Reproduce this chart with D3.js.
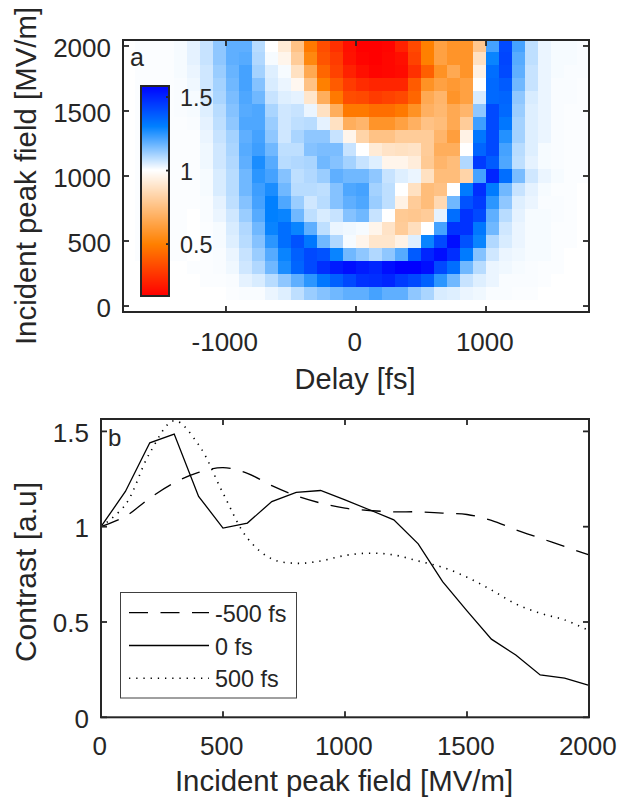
<!DOCTYPE html>
<html><head><meta charset="utf-8">
<script src="https://cdn.jsdelivr.net/npm/d3@7"></script>
<style>html,body{margin:0;padding:0;background:#fff}svg{display:block}text{font-family:"Liberation Sans",Arial,sans-serif;fill:#262626}</style>
</head><body><svg id="c" width="619" height="800"></svg>
<script>
// Heatmap: rows from 2000 MV/m down to 0, columns from -1800 fs in 100 fs steps
const fieldValues = [2000,1900,1800,1700,1600,1500,1400,1300,1200,1100,1000,900,800,700,600,500,400,300,200,100,0];
const delayStarts = [-1800,-1700,-1600,-1500,-1400,-1300,-1200,-1100,-1000,-900,-800,-700,-600,-500,-400,-300,-200,-100,0,100,200,300,400,500,600,700,800,900,1000,1100,1200,1300,1400,1500,1600,1700];
const heat = [
[1,1.01,1.01,1.01,1.015,1.035,1.07,1.134,1.19,1.19,1.087,1,.92,.76,.48,.36,.28,.19,.15,.15,.16,.24,.35,.5,.63,.58,.58,.78,1.22,1.42,1.22,1.08,1.028,1.015,1.015,1.012],
[1,1.01,1.01,1.01,1.015,1.035,1.07,1.134,1.19,1.2,1.095,1.015,.96,.8,.53,.38,.31,.2,.16,.15,.17,.19,.33,.5,.63,.58,.58,.88,1.29,1.43,1.2,1.08,1.028,1.015,1.015,1.012],
[1,1.01,1.01,1.01,1.015,1.028,1.06,1.122,1.18,1.22,1.11,1.043,1.015,.88,.66,.43,.33,.24,.19,.16,.17,.18,.28,.41,.57,.66,.58,.95,1.34,1.42,1.19,1.07,1.028,1.015,1.012,1.012],
[1,1.01,1.01,1.01,1.012,1.022,1.06,1.11,1.17,1.22,1.146,1.05,1.028,.97,.76,.5,.4,.31,.27,.25,.25,.25,.4,.57,.63,.6,.63,1,1.35,1.38,1.17,1.07,1.028,1.012,1.012,1.01],
[1,1.01,1.01,1.01,1.012,1.015,1.05,1.103,1.158,1.21,1.17,1.07,1.043,1.035,.9,.68,.48,.36,.35,.31,.33,.35,.43,.66,.71,.58,.63,1.05,1.35,1.36,1.134,1.05,1.028,1.012,1.012,1.01],
[1,1.01,1.01,1.01,1.012,1.015,1.043,1.087,1.146,1.2,1.21,1.103,1.06,1.07,1.028,.88,.68,.48,.48,.45,.45,.48,.57,.69,.72,.66,.71,1.134,1.42,1.35,1.122,1.043,1.028,1.012,1.01,1.01],
[1,1.01,1.01,1.01,1.01,1.012,1.035,1.08,1.134,1.21,1.21,1.122,1.06,1.08,1.087,1.035,.88,.68,.71,.58,.58,.63,.69,.76,.74,.66,.8,1.23,1.42,1.32,1.11,1.043,1.028,1.012,1.01,1.01],
[1,1.01,1.01,1.01,1.01,1.01,1.028,1.07,1.11,1.19,1.22,1.134,1.06,1.103,1.134,1.134,1.07,.96,.83,.76,.76,.8,.8,.8,.71,.62,.95,1.32,1.42,1.26,1.11,1.043,1.028,1.012,1.01,1.01],
[1,1.01,1.01,1.01,1.01,1.01,1.022,1.06,1.103,1.2,1.23,1.17,1.08,1.08,1.146,1.158,1.158,1.07,1,.92,.89,.88,.89,.8,.68,.68,1,1.36,1.42,1.22,1.087,1.043,1.015,1.012,1.01,1.01],
[1,1.01,1.01,1.01,1.01,1.01,1.022,1.06,1.095,1.19,1.27,1.2,1.087,1.095,1.103,1.17,1.146,1.11,1.07,1.043,.96,.96,.93,.79,.71,.74,1.095,1.45,1.38,1.21,1.08,1.035,1.015,1.012,1.01,1.01],
[1,1.01,1.01,1.01,1.01,1.01,1.015,1.05,1.087,1.17,1.25,1.22,1.146,1.08,1.095,1.122,1.19,1.17,1.17,1.134,1.07,1.043,1.028,.88,.74,.74,.83,1.22,1.5,1.34,1.16,1.06,1.028,1.015,1.01,1.01],
[1,1.01,1.01,1.01,1.01,1.01,1.015,1.05,1.087,1.17,1.23,1.27,1.17,1.087,1.087,1.08,1.146,1.21,1.22,1.11,1.08,1,.88,.74,.76,1,1.31,1.48,1.31,1.17,1.07,1.035,1.015,1.01,1.01,1],
[1,1.01,1.01,1.01,1.01,1.01,1.012,1.035,1.08,1.146,1.22,1.3,1.21,1.122,1.06,1.087,1.146,1.19,1.21,1.122,1.08,.95,.8,.74,.85,1.17,1.4,1.45,1.25,1.134,1.043,1.028,1.012,1.012,1.01,1],
[1,1.01,1.01,1.01,1.01,1,1.012,1.028,1.06,1.122,1.2,1.3,1.29,1.17,1.08,1.05,1.07,1.146,1.17,1.07,1,.79,.78,.8,1.035,1.34,1.47,1.42,1.19,1.087,1.035,1.015,1.015,1.012,1.01,1],
[1,1.01,1.01,1.01,1.01,1,1.01,1.015,1.05,1.095,1.17,1.29,1.34,1.29,1.19,1.08,1.028,1.022,1.015,.96,.89,.8,.87,1,1.22,1.47,1.47,1.32,1.17,1.06,1.028,1.015,1.015,1.01,1.01,1],
[1,1.01,1.01,1.01,1.01,1,1.01,1.015,1.043,1.087,1.146,1.25,1.34,1.4,1.32,1.17,1.095,1.015,.96,.9,.9,.95,1.043,1.29,1.42,1.55,1.4,1.29,1.095,1.05,1.028,1.015,1.015,1.01,1.01,1],
[1,1.01,1.01,1.01,1.01,1,1.01,1.012,1.028,1.07,1.122,1.2,1.29,1.37,1.42,1.4,1.29,1.17,1.134,1.095,1.134,1.2,1.38,1.5,1.55,1.48,1.31,1.146,1.06,1.028,1.022,1.015,1.015,1.01,1,1],
[1,1,1,1,1,1.01,1.01,1.012,1.022,1.06,1.095,1.17,1.27,1.36,1.42,1.48,1.52,1.55,1.52,1.5,1.55,1.58,1.58,1.55,1.42,1.34,1.17,1.087,1.028,1.022,1.015,1.012,1.01,1.01,1,1],
[1,1,1,1,1,1,1.01,1.01,1.012,1.035,1.05,1.087,1.134,1.19,1.25,1.32,1.37,1.42,1.47,1.48,1.5,1.45,1.42,1.37,1.25,1.17,1.07,1.043,1.028,1.012,1.012,1.012,1.01,1,1,1],
[1,1,1,1,1,1,1,1,1.01,1.012,1.012,1.028,1.043,1.08,1.122,1.146,1.17,1.19,1.19,1.22,1.19,1.19,1.134,1.103,1.05,1.043,1.028,1.022,1.012,1.012,1.01,1.01,1,1,1,1],
[1,1,1,1,1,1,1,1,1,1,1,1,1,1,1,1,1,1,1,1,1,1,1,1,1,1,1,1,1,1,1,1,1,1,1,1]
];
const colorStops = [0.15,0.5,1.0,1.005,1.3,1.58];
const colorValues = ["#ff0000","#ff8000","#ffffff","#ffffff","#0080ff","#0000ff"];
const heatXTicks = [-1000,0,1000];
const heatYTicks = [0,500,1000,1500,2000];
const barTicks = [0.5,1,1.5];

// Line panel
const fields = [0,100,200,300,400,500,600,700,800,900,1000,1100,1200,1300,1400,1500,1600,1700,1800,1900,2000];
const minus500 = [1,1.054,1.15,1.23,1.285,1.31,1.28,1.215,1.162,1.124,1.097,1.085,1.078,1.078,1.071,1.064,1.033,.984,.94,.896,.852];
const zero = [1,1.185,1.44,1.486,1.159,.993,1.019,1.132,1.18,1.19,1.141,1.089,1.036,.91,.712,.558,.41,.327,.222,.206,.168];
const plus500 = [1,1.115,1.387,1.556,1.43,1.176,.94,.831,.808,.82,.849,.861,.852,.82,.787,.735,.668,.595,.546,.511,.455];
const lineXTicks = [0,500,1000,1500,2000];
const lineYTicks = [0,0.5,1,1.5];
const legendLabels = ["-500 fs","0 fs","500 fs"];

const ink = "#262626", FS = 26, LFS = 29.4, SFS = 23.4;
const svg = d3.select("#c");
const color = d3.scaleLinear().domain(colorStops).range(colorValues).clamp(true);

function frame(g, x, y, xt, yt, fmt, xdy, ydy){
  const [l,r]=x.range(), [b,t]=y.range();
  const tl=6;
  xt.forEach(v=>{ [[b,b-tl],[t,t+tl]].forEach(([a,c])=>g.append("line").attr("x1",x(v)).attr("x2",x(v)).attr("y1",a).attr("y2",c).attr("stroke",ink).attr("stroke-width",1.8)); });
  yt.forEach(v=>{ [[l,l+tl],[r,r-tl]].forEach(([a,c])=>g.append("line").attr("x1",a).attr("x2",c).attr("y1",y(v)).attr("y2",y(v)).attr("stroke",ink).attr("stroke-width",1.8)); });
  g.append("rect").attr("x",l).attr("y",t).attr("width",r-l).attr("height",b-t).attr("fill","none").attr("stroke",ink).attr("stroke-width",2);
  xt.forEach(v=>g.append("text").attr("x",x(v)-1.2).attr("y",b+xdy).attr("text-anchor","middle").attr("font-size",FS).text(fmt(v)));
  yt.forEach(v=>g.append("text").attr("x",l-12).attr("y",y(v)+ydy).attr("text-anchor","end").attr("font-size",FS).text(fmt(v)));
}
const fmt = v=>String(v);

// Panel a
const ax = d3.scaleLinear().domain([-1792,1792]).range([123,589]);
const ay = d3.scaleLinear().domain([-46,2046]).range([312,40]);
const ga = svg.append("g");
ga.append("clipPath").attr("id","ca").append("rect").attr("x",123).attr("y",40).attr("width",466).attr("height",272);
const cells = ga.append("g").attr("clip-path","url(#ca)").attr("shape-rendering","crispEdges");
heat.forEach((row,i)=>row.forEach((v,j)=>{
  cells.append("rect")
    .attr("x",ax(delayStarts[j])).attr("width",ax(delayStarts[j]+100)-ax(delayStarts[j]))
    .attr("y",ay(fieldValues[i]+50)).attr("height",ay(fieldValues[i]-50)-ay(fieldValues[i]+50))
    .attr("fill",color(v));
}));
frame(ga,ax,ay,heatXTicks,heatYTicks,fmt,39,11);
ga.append("text").attr("x",130).attr("y",66).attr("font-size",25).text("a");
ga.append("text").attr("x",355).attr("y",388.5).attr("text-anchor","middle").attr("font-size",29).text("Delay [fs]");
ga.append("text").attr("transform","translate(36,176) rotate(-90)").attr("text-anchor","middle").attr("font-size",LFS).text("Incident peak field [MV/m]");

// Colorbar
const barY = d3.scaleLinear().domain([0.147,1.575]).range([296,86]);
const barVals = d3.range(296,86,-1).map(p=>barY.invert(p-0.5));
const gb = ga.append("g");
gb.append("g").attr("shape-rendering","crispEdges").selectAll("rect").data(barVals).join("rect")
  .attr("x",141).attr("width",28).attr("y",d=>barY(d)-0.5).attr("height",1.2).attr("fill",d=>color(d));
gb.append("rect").attr("x",141).attr("y",86).attr("width",28).attr("height",210).attr("fill","none").attr("stroke",ink).attr("stroke-width",2);
barTicks.forEach(v=>{
  gb.append("line").attr("x1",166).attr("x2",169).attr("y1",barY(v)).attr("y2",barY(v)).attr("stroke",ink).attr("stroke-width",1.8);
  gb.append("text").attr("x",180).attr("y",barY(v)+9).attr("font-size",SFS).text(fmt(v));
});

// Panel b
const bx = d3.scaleLinear().domain([0,2000]).range([101,589]);
const by = d3.scaleLinear().domain([0,1.565]).range([717.3,419]);
const gl = svg.append("g");
const lineFn = d3.line().x((d,i)=>bx(fields[i])).y(d=>by(d));
const smoothFn = d3.line().x((d,i)=>bx(fields[i])).y(d=>by(d)).curve(d3.curveCatmullRom.alpha(0.5));
gl.append("path").attr("d",smoothFn(minus500)).attr("fill","none").attr("stroke","#000").attr("stroke-width",1.3).attr("stroke-dasharray","19 12.5");
gl.append("path").attr("d",lineFn(zero)).attr("fill","none").attr("stroke","#000").attr("stroke-width",1.3);
gl.append("path").attr("d",smoothFn(plus500)).attr("fill","none").attr("stroke","#000").attr("stroke-width",1.6).attr("stroke-dasharray","1.3 5.9");
frame(gl,bx,by,lineXTicks,lineYTicks,fmt,38,10.5);
gl.append("text").attr("x",108).attr("y",446).attr("font-size",24).text("b");
gl.append("text").attr("x",344).attr("y",791).attr("text-anchor","middle").attr("font-size",LFS).text("Incident peak field [MV/m]");
gl.append("text").attr("transform","translate(36,572) rotate(-90)").attr("text-anchor","middle").attr("font-size",30).text("Contrast [a.u]");

// Legend
const lg = gl.append("g");
lg.append("rect").attr("x",120.5).attr("y",592.5).attr("width",176).attr("height",105.5).attr("fill","#fff").attr("stroke","#404040").attr("stroke-width",1);
const dashes = ["19 12.5",null,"1.3 5.9"];
legendLabels.forEach((t,i)=>{
  const yy = 612.7+32.8*i;
  lg.append("line").attr("x1",129).attr("x2",209).attr("y1",yy).attr("y2",yy).attr("stroke","#000").attr("stroke-width",i==2?1.6:1.3).attr("stroke-dasharray",dashes[i]);
  lg.append("text").attr("x",215).attr("y",yy+9).attr("font-size",SFS).text(t);
});
</script></body></html>
